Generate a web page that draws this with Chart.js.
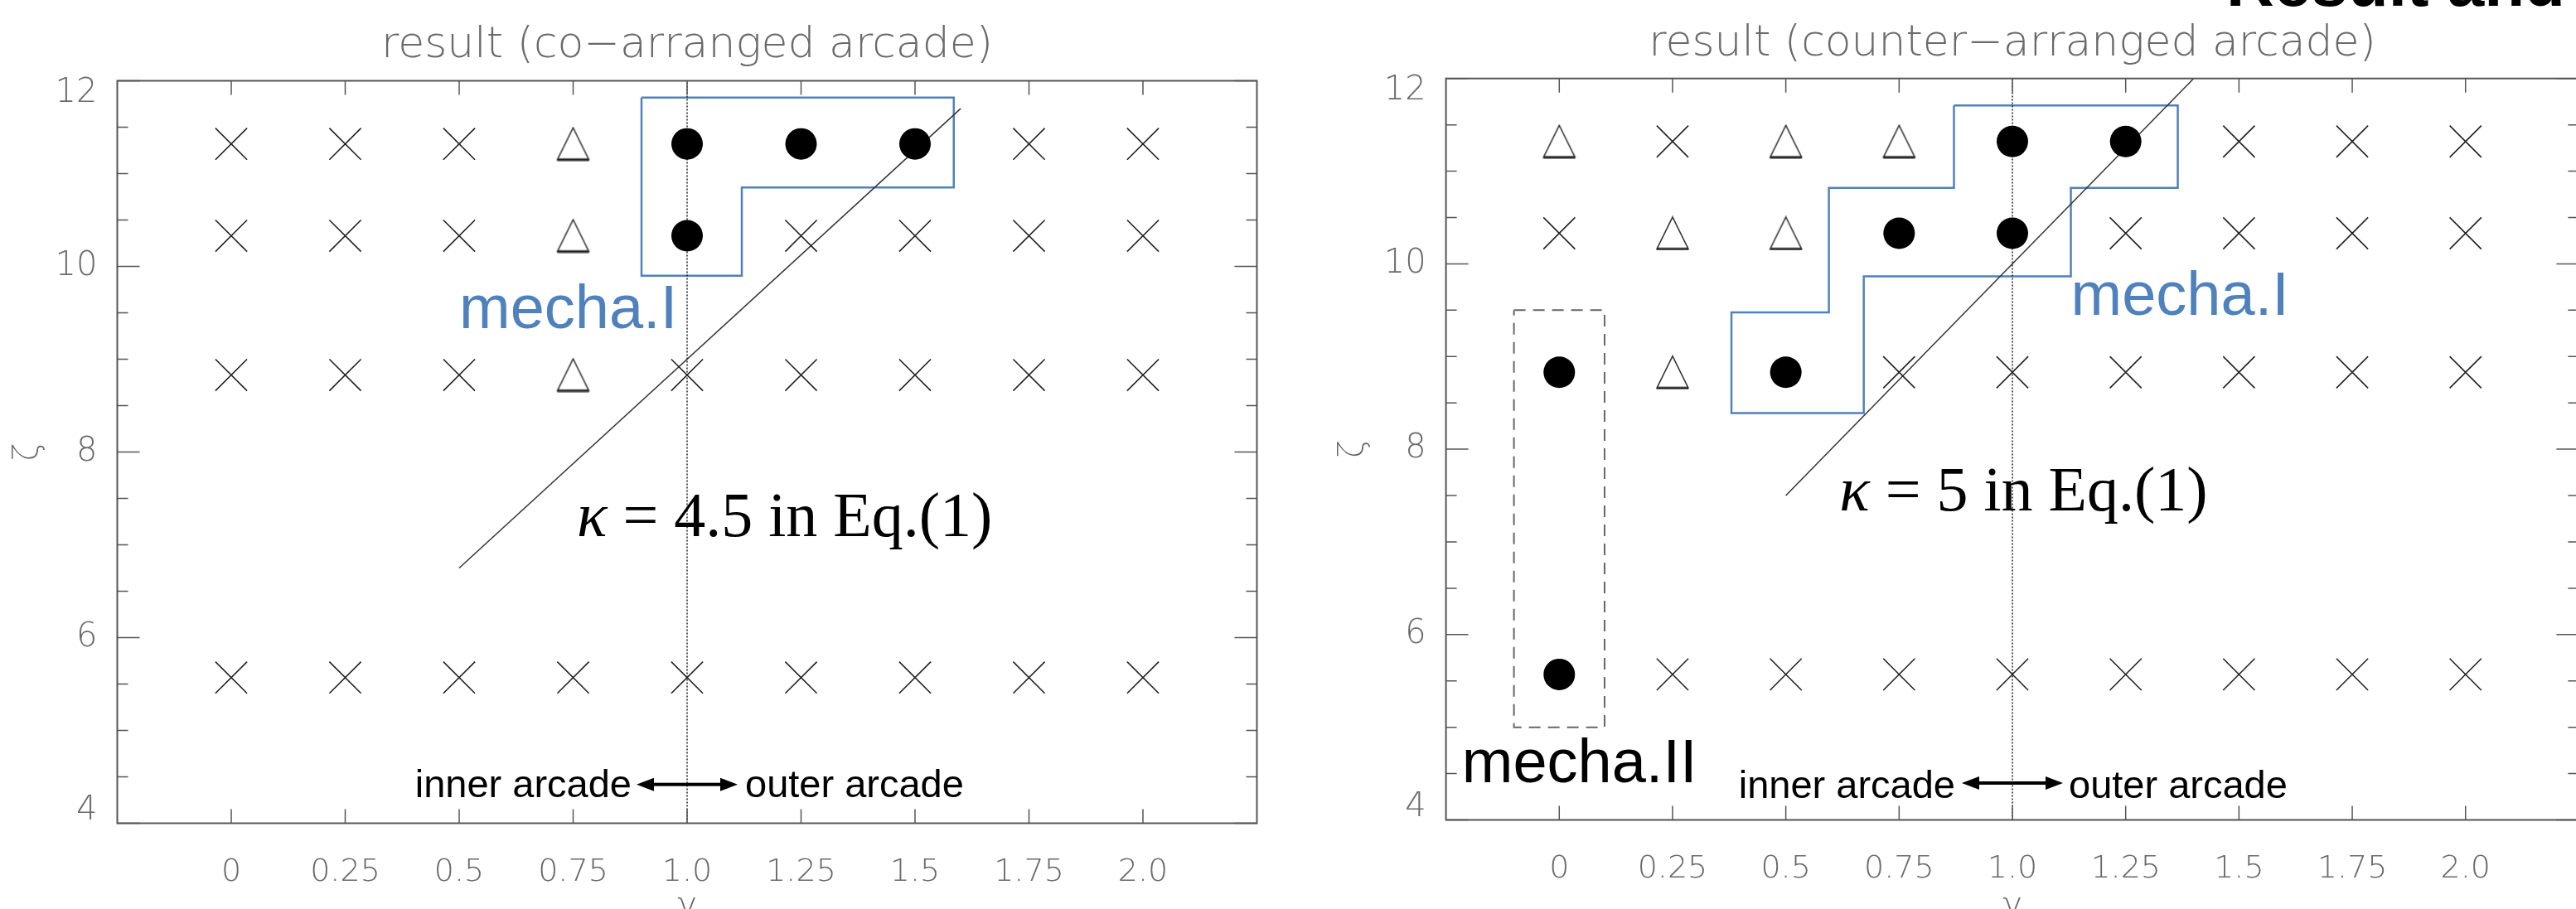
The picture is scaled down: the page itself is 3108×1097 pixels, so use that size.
<!DOCTYPE html>
<html lang="en">
<head>
<meta charset="UTF-8">
<title>result (co- / counter-arranged arcade)</title>
<script src="https://cdn.jsdelivr.net/npm/chart.js"></script>
<style>
    html, body { margin:0; padding:0; background:#fff; }
    body { width:3108px; height:1097px; overflow:hidden; position:relative; }
    canvas { position:absolute; top:0; }
    #coChart { left:0; }
    #counterChart { left:1560px; }
    #heading { position:absolute; left:2686px; top:-60px; font:bold 80px 'Liberation Sans', Arial, sans-serif; line-height:80px; white-space:nowrap; color:#000; }
</style>
</head>
<body>
    <div id="heading">Result and</div>
    <canvas id="coChart" width="1560" height="1140"></canvas>
    <canvas id="counterChart" width="1580" height="1140"></canvas>
<script>
// grid of runs: gamma (x) and zeta (y)
const gammaValues = [0, 0.25, 0.5, 0.75, 1.0, 1.25, 1.5, 1.75, 2.0];
const gammaLabels = ['0', '0.25', '0.5', '0.75', '1.0', '1.25', '1.5', '1.75', '2.0'];
const zetaRows = [11.32, 10.33, 8.83, 5.57];
const zetaTicks = [4, 6, 8, 10, 12];

// o = filled circle, t = triangle, x = cross (one string per zeta row)
const coResult      = ['xxxtoooxx', 'xxxtoxxxx', 'xxxtxxxxx', 'xxxxxxxxx'];
const counterResult = ['txttooxxx', 'xttooxxxx', 'otoxxxxxx', 'oxxxxxxxx'];

// kappa lines (end points)
const coKappaLine      = [[0.5, 6.75], [1.6, 11.7]];
const counterKappaLine = [[0.5, 7.5], [1.4, 12.0]];

// outlines
const coMechaI = [[0.9, 11.82], [1.585, 11.82], [1.585, 10.85], [1.12, 10.85], [1.12, 9.9], [0.9, 9.9], [0.9, 11.82]];
const counterMechaI = [[0.871, 11.71], [1.365, 11.71], [1.365, 10.82], [1.129, 10.82], [1.129, 9.866], [0.672, 9.866],
    [0.672, 8.39], [0.38, 8.39], [0.38, 9.476], [0.595, 9.476], [0.595, 10.82], [0.871, 10.82], [0.871, 11.71]];
const counterMechaII = [[-0.1, 9.5], [0.1, 9.5], [0.1, 5.0], [-0.1, 5.0], [-0.1, 9.5]];
const divider = [[1.0, 4], [1.0, 12]];

const thinFont = "'DejaVu Sans', 'Liberation Sans', sans-serif";
const sansFont = "'Liberation Sans', Arial, sans-serif";
const serifFont = "'Liberation Serif', 'Times New Roman', serif";
const BLUE = '#4f81bd';
const GREY_TEXT = '#6a6a6a';

function toXY(pairs) { return pairs.map(p => ({ x: p[0], y: p[1] })); }

function markerPoints(grid, code) {
    const pts = [];
    grid.forEach((row, r) => {
        [...row].forEach((c, i) => { if (c === code) pts.push({ x: gammaValues[i], y: zetaRows[r] }); });
    });
    return pts;
}

function triangleMark() {
    const c = document.createElement('canvas');
    c.width = 42; c.height = 42;
    const g = c.getContext('2d');
    g.strokeStyle = '#222';
    g.lineWidth = 1.5;
    g.beginPath(); g.moveTo(21, 1.5); g.lineTo(40, 40); g.lineTo(2, 40); g.closePath(); g.stroke();
    g.lineWidth = 3;
    g.beginPath(); g.moveTo(2, 40); g.lineTo(40, 40); g.stroke();
    return c;
}
const TRIANGLE = triangleMark();

// box + inward ticks on all four sides
const framePlugin = {
    id: 'frame',
    afterDraw(chart) {
        const { ctx, chartArea: a, scales: { x, y } } = chart;
        ctx.save();
        ctx.strokeStyle = '#555';
        ctx.lineWidth = 2;
        ctx.strokeRect(a.left, a.top, a.right - a.left, a.bottom - a.top);
        ctx.lineWidth = 1.5;
        ctx.beginPath();
        gammaValues.forEach(v => {
            const px = x.getPixelForValue(v);
            ctx.moveTo(px, a.top); ctx.lineTo(px, a.top + 17);
            ctx.moveTo(px, a.bottom); ctx.lineTo(px, a.bottom - 17);
        });
        for (let v = y.min; v <= y.max + 1e-9; v += 0.5) {
            const py = y.getPixelForValue(v);
            const len = (v % 2 === 0) ? 27 : 13;
            ctx.moveTo(a.left, py); ctx.lineTo(a.left + len, py);
            ctx.moveTo(a.right, py); ctx.lineTo(a.right - len, py);
        }
        ctx.stroke();
        ctx.restore();
    }
};

// text labels and the inner/outer arrow
function notesPlugin(notes) {
    return {
        id: 'notes',
        afterDraw(chart) {
            const { ctx, scales: { x, y } } = chart;
            ctx.save();
            ctx.textBaseline = 'alphabetic';
            notes.forEach(n => {
                const x0 = x.getPixelForValue(n.g) + (n.dx || 0);
                const y0 = y.getPixelForValue(n.z);
                ctx.fillStyle = n.color || '#000';
                if (n.arrow) {
                    const h = n.arrow, head = 21, wing = 8;
                    ctx.fillRect(x0 - h + head - 2, y0 - 2, 2 * (h - head) + 4, 4);
                    ctx.beginPath();
                    ctx.moveTo(x0 - h, y0); ctx.lineTo(x0 - h + head, y0 - wing); ctx.lineTo(x0 - h + head, y0 + wing); ctx.closePath();
                    ctx.moveTo(x0 + h, y0); ctx.lineTo(x0 + h - head, y0 - wing); ctx.lineTo(x0 + h - head, y0 + wing); ctx.closePath();
                    ctx.fill();
                    return;
                }
                ctx.textAlign = n.align || 'left';
                if (n.parts) {
                    let px = x0;
                    n.parts.forEach(p => {
                        ctx.font = p.font;
                        ctx.fillText(p.text, px, y0);
                        px += ctx.measureText(p.text).width;
                    });
                } else {
                    ctx.font = n.font;
                    ctx.fillText(n.text, x0, y0);
                }
            });
            ctx.restore();
        }
    };
}

function makeChart(id, cfg) {
    const datasets = [
        { data: markerPoints(cfg.result, 'o'), pointStyle: 'circle', pointRadius: 19, backgroundColor: '#000', borderColor: '#000', pointBorderWidth: 0 },
        { data: markerPoints(cfg.result, 't'), pointStyle: TRIANGLE, pointRadius: 20, backgroundColor: '#fff', borderColor: '#222' },
        { data: markerPoints(cfg.result, 'x'), pointStyle: 'crossRot', pointRadius: 27, borderColor: '#222', pointBorderWidth: 1.6, borderWidth: 1.6 },
        { type: 'line', showLine: true, data: toXY(divider), borderColor: '#222', borderWidth: 1.5, borderDash: [2, 2], pointRadius: 0, fill: false },
        { type: 'line', showLine: true, data: toXY(cfg.kappaLine), borderColor: '#333', borderWidth: 1.5, pointRadius: 0, fill: false },
    ];
    cfg.outlines.forEach(o => datasets.push({
        type: 'line', showLine: true, data: toXY(o.points), borderColor: o.color, borderWidth: o.width,
        borderDash: o.dash || [], pointRadius: 0, fill: false
    }));

    return new Chart(document.getElementById(id), {
        type: 'scatter',
        data: { datasets },
        options: {
            responsive: false,
            animation: false,
            events: [],
            layout: { padding: { left: 0, right: cfg.padRight, top: 0, bottom: 0 } },
            plugins: {
                legend: { display: false },
                tooltip: { enabled: false },
                title: {
                    display: true, text: cfg.title, fullSize: false, color: GREY_TEXT,
                    font: { family: thinFont, size: 52, weight: 200, lineHeight: 1.2 },
                    padding: { top: cfg.titleTop, bottom: cfg.titleBottom }
                }
            },
            scales: {
                x: {
                    type: 'linear', min: -0.25, max: 2.25,
                    afterBuildTicks: s => { s.ticks = gammaValues.map(v => ({ value: v })); },
                    afterFit: s => { s.height = cfg.xAxisHeight; },
                    grid: { display: false },
                    border: { display: false },
                    ticks: {
                        autoSkip: false, maxRotation: 0, padding: 29, color: GREY_TEXT,
                        font: { family: thinFont, size: 38, weight: 200 },
                        callback: v => gammaLabels[gammaValues.indexOf(v)] ?? ''
                    },
                    title: { display: true, text: 'γ', color: GREY_TEXT, font: { family: thinFont, size: 40, weight: 200, lineHeight: 1.2 }, padding: { top: 0, bottom: 21 } }
                },
                y: {
                    type: 'linear', min: 4, max: 12,
                    afterBuildTicks: s => { s.ticks = zetaTicks.map(v => ({ value: v })); },
                    afterFit: s => { s.width = cfg.yAxisWidth; },
                    grid: { display: false },
                    border: { display: false },
                    ticks: {
                        padding: 16, color: GREY_TEXT,
                        font: { family: thinFont, size: 40, weight: 200, lineHeight: 0.75 },
                        // end labels sit inside the axis range, as in the original plot
                        callback: v => v === 12 ? ['', String(v)] : (v === 4 ? [String(v), ''] : String(v))
                    },
                    title: { display: true, text: 'ζ', color: GREY_TEXT, font: { family: thinFont, size: 40, weight: 200, lineHeight: 1.2 }, padding: { top: cfg.zetaPad, bottom: 0 } }
                }
            }
        },
        plugins: [framePlugin, notesPlugin(cfg.notes)]
    });
}

const kappaFont = '76px ' + serifFont;
const kappaItalic = 'italic 76px ' + serifFont;
const arcadeFont = '47px ' + sansFont;
const mechaFont = '74px ' + sansFont;

makeChart('coChart', {
    title: 'result (co\u2212arranged arcade)',
    result: coResult,
    kappaLine: coKappaLine,
    outlines: [{ points: coMechaI, color: BLUE, width: 2.5 }],
    padRight: 43.5, yAxisWidth: 141.5, xAxisHeight: 146.5,
    titleTop: 24, titleBottom: 11.1, zetaPad: 11,
    notes: [
        { text: 'mecha.I', font: mechaFont, color: BLUE, g: 0.5, z: 9.335 },
        { parts: [{ text: 'κ', font: kappaItalic }, { text: ' = 4.5 in Eq.(1)', font: kappaFont }], g: 0.758, z: 7.09 },
        { text: 'inner arcade', font: arcadeFont, g: 1.0, z: 4.284, dx: -67, align: 'right' },
        { text: 'outer arcade', font: arcadeFont, g: 1.0, z: 4.284, dx: 70, align: 'left' },
        { arrow: 61, g: 1.0, z: 4.418 }
    ]
});

makeChart('counterChart', {
    title: 'result (counter\u2212arranged arcade)',
    result: counterResult,
    kappaLine: counterKappaLine,
    outlines: [
        { points: counterMechaI, color: BLUE, width: 2.5 },
        { points: counterMechaII, color: '#666', width: 2, dash: [14, 9] }
    ],
    padRight: 18.4, yAxisWidth: 184.6, xAxisHeight: 150.5,
    titleTop: 22.5, titleBottom: 9.8, zetaPad: 50,
    notes: [
        { text: 'mecha.I', font: mechaFont, color: BLUE, g: 1.129, z: 9.446 },
        { text: 'mecha.II', font: mechaFont, color: '#000', g: -0.215, z: 4.407 },
        { parts: [{ text: 'κ', font: kappaItalic }, { text: ' = 5 in Eq.(1)', font: kappaFont }], g: 0.618, z: 7.336 },
        { text: 'inner arcade', font: arcadeFont, g: 1.0, z: 4.24, dx: -69, align: 'right' },
        { text: 'outer arcade', font: arcadeFont, g: 1.0, z: 4.24, dx: 68, align: 'left' },
        { arrow: 61, g: 1.0, z: 4.398 }
    ]
});
</script>
</body>
</html>
